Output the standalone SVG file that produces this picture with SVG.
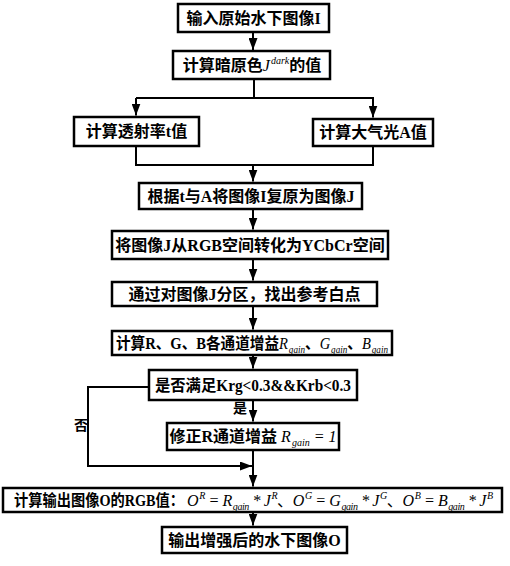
<svg xmlns="http://www.w3.org/2000/svg" width="510" height="566" viewBox="0 0 510 566">
<defs>
<style>
.box{fill:#fff;stroke:#000;stroke-width:2.5}
.ln{fill:none;stroke:#000;stroke-width:2}
.t{font-family:"Liberation Serif","Noto Sans CJK SC",serif;font-size:16px;font-weight:bold;fill:#000;text-anchor:middle}
.m{font-family:"Liberation Serif","Noto Sans CJK SC",serif;font-style:italic;font-weight:normal}
.s{font-size:10px}
.lab{font-family:"Liberation Serif","Noto Sans CJK SC",serif;font-size:14px;font-weight:bold;fill:#000;text-anchor:middle}
</style>
<marker id="ah" viewBox="0 0 12 9" refX="12" refY="4.5" markerWidth="12" markerHeight="9" markerUnits="userSpaceOnUse" orient="auto">
<path d="M0,0 L12,4.5 L0,9 z" fill="#000"/>
</marker>
</defs>
<rect width="510" height="566" fill="#fff"/>
<g id="connectors">
<line class="ln" x1="253" y1="33" x2="253" y2="50" marker-end="url(#ah)"/>
<polyline class="ln" points="254,80 254,98"/>
<polyline class="ln" points="136,98 373,98 373,117.5" marker-end="url(#ah)"/>
<line class="ln" x1="136" y1="98" x2="136" y2="115.5" marker-end="url(#ah)"/>
<polyline class="ln" points="136,147 136,165 373,165 373,147"/>
<line class="ln" x1="253" y1="165" x2="253" y2="181.5" marker-end="url(#ah)"/>
<line class="ln" x1="253" y1="210" x2="253" y2="229.5" marker-end="url(#ah)"/>
<line class="ln" x1="253" y1="260" x2="253" y2="280.5" marker-end="url(#ah)"/>
<line class="ln" x1="253" y1="307" x2="253" y2="329.5" marker-end="url(#ah)"/>
<line class="ln" x1="253" y1="356" x2="253" y2="368.5" marker-end="url(#ah)"/>
<line class="ln" x1="253" y1="401" x2="253" y2="421.5" marker-end="url(#ah)"/>
<polyline class="ln" points="148,387 88,387 88,466 252,466" marker-end="url(#ah)"/>
<line class="ln" x1="253" y1="451" x2="253" y2="486.5" marker-end="url(#ah)"/>
<line class="ln" x1="253" y1="513" x2="253" y2="525.5" marker-end="url(#ah)"/>
<text class="lab" x="240" y="413">是</text>
<text class="lab" x="81" y="430">否</text>
</g>
<g id="n1"><rect class="box" x="178" y="4" width="151" height="28"/><text class="t" x="253.5" y="24">输入原始水下图像I</text></g>
<g id="n2"><rect class="box" x="173" y="51" width="157" height="28"/><text class="t" x="252" y="71">计算暗原色<tspan class="m">J</tspan><tspan class="m s" dx="1" dy="-7">dark</tspan><tspan dy="7">的值</tspan></text></g>
<g id="n3"><rect class="box" x="74" y="117" width="125" height="29"/><text class="t" x="136.5" y="137">计算透射率t值</text></g>
<g id="n4"><rect class="box" x="313" y="119" width="120" height="27"/><text class="t" x="373" y="138">计算大气光A值</text></g>
<g id="n5"><rect class="box" x="139" y="183" width="223" height="26"/><text class="t" x="251" y="202">根据t与A将图像I复原为图像J</text></g>
<g id="n6"><rect class="box" x="112" y="231" width="276" height="28"/><text class="t" x="250" y="251">将图像J从RGB空间转化为YCbCr空间</text></g>
<g id="n7"><rect class="box" x="112" y="282" width="265" height="24"/><text class="t" x="244.5" y="300">通过对图像J分区，找出参考白点</text></g>
<g id="n8"><rect class="box" x="112" y="331" width="280" height="24"/><text class="t" x="116" y="349" style="text-anchor:start" textLength="272" lengthAdjust="spacingAndGlyphs">计算R、G、B各通道增益<tspan class="m">R</tspan><tspan class="m s" dx="1" dy="4">gain</tspan><tspan dy="-4">、</tspan><tspan class="m">G</tspan><tspan class="m s" dx="1" dy="4">gain</tspan><tspan dy="-4">、</tspan><tspan class="m">B</tspan><tspan class="m s" dx="1" dy="4">gain</tspan></text></g>
<g id="n9"><rect class="box" x="149" y="370" width="208" height="30"/><text class="t" x="155" y="391" style="text-anchor:start" textLength="196" lengthAdjust="spacingAndGlyphs">是否满足Krg&lt;0.3&amp;&amp;Krb&lt;0.3</text></g>
<g id="n10"><rect class="box" x="167" y="423" width="172" height="27"/><text class="t" x="253" y="442">修正R通道增益 <tspan class="m">R</tspan><tspan class="m s" dx="1" dy="4">gain</tspan><tspan class="m" dy="-4"> = 1</tspan></text></g>
<g id="n11"><rect class="box" x="3" y="488" width="499" height="24"/><text class="t" x="14" y="506" style="text-anchor:start" textLength="170" lengthAdjust="spacingAndGlyphs">计算输出图像O的RGB值：</text><text class="t" x="187" y="506" style="text-anchor:start" textLength="306" lengthAdjust="spacing"><tspan class="m">O</tspan><tspan class="m s" dx="1" dy="-7">R</tspan><tspan class="m" dy="7"> = R</tspan><tspan class="m s" dx="1" dy="4">gain</tspan><tspan class="m" dy="-4"> * J</tspan><tspan class="m s" dx="1" dy="-7">R</tspan><tspan dy="7" style="font-weight:normal">、</tspan><tspan class="m">O</tspan><tspan class="m s" dx="1" dy="-7">G</tspan><tspan class="m" dy="7"> = G</tspan><tspan class="m s" dx="1" dy="4">gain</tspan><tspan class="m" dy="-4"> * J</tspan><tspan class="m s" dx="1" dy="-7">G</tspan><tspan dy="7" style="font-weight:normal">、</tspan><tspan class="m">O</tspan><tspan class="m s" dx="1" dy="-7">B</tspan><tspan class="m" dy="7"> = B</tspan><tspan class="m s" dx="1" dy="4">gain</tspan><tspan class="m" dy="-4"> * J</tspan><tspan class="m s" dx="1" dy="-7">B</tspan></text></g>
<g id="n12"><rect class="box" x="162" y="527" width="185" height="26"/><text class="t" x="254.5" y="546">输出增强后的水下图像O</text></g>
</svg>
